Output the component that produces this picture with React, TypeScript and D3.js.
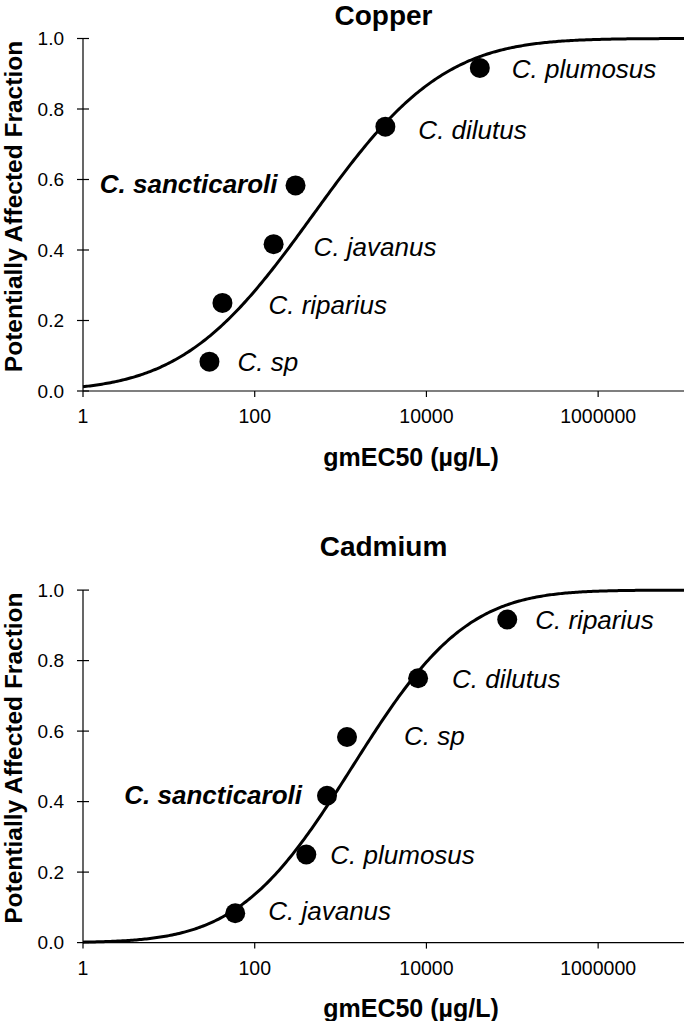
import React from "react";
import * as d3 from "d3";

// ---- data ----
const fractions = [1 / 12, 3 / 12, 5 / 12, 7 / 12, 9 / 12, 11 / 12];

const copperSpecies = ["C. sp", "C. riparius", "C. javanus", "C. sancticaroli", "C. dilutus", "C. plumosus"];
const copperEC50 = [29.7, 42.1, 166, 299, 3325, 41850];
const copperMu = 2.68; // log10 mean of fitted lognormal
const copperSigma = 1.19;

const cadmiumSpecies = ["C. javanus", "C. plumosus", "C. sancticaroli", "C. sp", "C. dilutus", "C. riparius"];
const cadmiumEC50 = [59.3, 399, 695, 1189, 8000, 87300];
const cadmiumMu = 3.14;
const cadmiumSigma = 1.04;

const highlight = "C. sancticaroli";
const xTicks = [1, 100, 10000, 1000000];
const yTicks = [0, 0.2, 0.4, 0.6, 0.8, 1.0];

// ---- layout (label offsets relative to point: [dx, dy, anchor]) ----
const copperLabelPos: [number, number, string][] = [
  [28, 9, "start"],
  [46, 11, "start"],
  [40, 12, "start"],
  [-18, 8, "end"],
  [33, 12, "start"],
  [32, 10, "start"],
];
const cadmiumLabelPos: [number, number, string][] = [
  [33, 7, "start"],
  [24, 10, "start"],
  [-25, 8, "end"],
  [57, 8, "start"],
  [34, 10, "start"],
  [28, 10, "start"],
];

const FONT = "'Liberation Sans', Arial, Helvetica, sans-serif";

function normCdf(z: number) {
  const t = 1 / (1 + 0.2316419 * Math.abs(z));
  const d = 0.3989423 * Math.exp((-z * z) / 2);
  const p = d * t * (0.3193815 + t * (-0.3565638 + t * (1.781478 + t * (-1.821256 + t * 1.330274))));
  return z > 0 ? 1 - p : p;
}

type PanelProps = {
  offsetY: number;
  species: string[];
  values: number[];
  mu: number;
  sigma: number;
  labelPos: [number, number, string][];
};

function Panel({ offsetY, species, values, mu, sigma, labelPos }: PanelProps) {
  const x = d3.scaleLog().domain([1, 1e7]).range([83, 684]);
  const y = d3.scaleLinear().domain([0, 1]).range([391, 38.5]);
  const grid = d3.range(0, 7.0001, 0.02).map((l) => Math.pow(10, l));
  const line = d3
    .line<number>()
    .x((v) => x(v))
    .y((v) => y(normCdf((Math.log10(v) - mu) / sigma)));

  return (
    <g transform={`translate(0,${offsetY})`}>
      {/* axes */}
      <line x1={x(1)} x2={x(1e7)} y1={y(0)} y2={y(0)} stroke="#000" strokeWidth={1.2} />
      <line x1={x(1)} x2={x(1)} y1={y(0)} y2={y(1)} stroke="#000" strokeWidth={1.2} />
      {yTicks.map((t) => (
        <g key={"y" + t}>
          <line x1={x(1) - 6} x2={x(1) + 6} y1={y(t)} y2={y(t)} stroke="#000" strokeWidth={1.2} />
          <text x={64} y={y(t)} dy="0.35em" textAnchor="end" fontSize={19} fontFamily={FONT}>
            {t.toFixed(1)}
          </text>
        </g>
      ))}
      {xTicks.map((t) => (
        <g key={"x" + t}>
          <line x1={x(t)} x2={x(t)} y1={y(0)} y2={y(0) + 6} stroke="#000" strokeWidth={1.2} />
          <text x={x(t)} y={y(0) + 32} textAnchor="middle" fontSize={19.5} fontFamily={FONT}>
            {String(t)}
          </text>
        </g>
      ))}
      {/* axis titles */}
      <text
        transform={`translate(22.3,206.5) rotate(-90)`}
        textAnchor="middle"
        fontSize={24.5}
        fontWeight="bold"
        fontFamily={FONT}
      >
        Potentially Affected Fraction
      </text>
      <text x={411} y={465.5} textAnchor="middle" fontSize={25} fontWeight="bold" fontFamily={FONT}>
        gmEC50 (µg/L)
      </text>
      {/* fitted curve */}
      <path d={line(grid) || ""} fill="none" stroke="#000" strokeWidth={3} />
      {/* points */}
      {values.map((v, i) => (
        <circle key={"p" + i} cx={x(v)} cy={y(fractions[i])} r={10} fill="#000" />
      ))}
      {values.map((v, i) => {
        const [dx, dy, anchor] = labelPos[i];
        const bold = species[i] === highlight;
        return (
          <text
            key={"l" + i}
            x={x(v) + dx}
            y={y(fractions[i]) + dy}
            textAnchor={anchor as any}
            fontSize={26}
            fontStyle="italic"
            fontWeight={bold ? "bold" : "normal"}
            fontFamily={FONT}
          >
            {species[i]}
          </text>
        );
      })}
    </g>
  );
}

export default function App() {
  return (
    <>
      <style>{"body{margin:0}"}</style>
      <svg width={685} height={1021} style={{ display: "block", background: "#fff" }}>
        <text x={383.5} y={25} textAnchor="middle" fontSize={28} fontWeight="bold" fontFamily={FONT}>
          Copper
        </text>
        <Panel
          offsetY={0}
          species={copperSpecies}
          values={copperEC50}
          mu={copperMu}
          sigma={copperSigma}
          labelPos={copperLabelPos}
        />
        <text x={383.5} y={556} textAnchor="middle" fontSize={28} fontWeight="bold" fontFamily={FONT}>
          Cadmium
        </text>
        <Panel
          offsetY={551.6}
          species={cadmiumSpecies}
          values={cadmiumEC50}
          mu={cadmiumMu}
          sigma={cadmiumSigma}
          labelPos={cadmiumLabelPos}
        />
      </svg>
    </>
  );
}
